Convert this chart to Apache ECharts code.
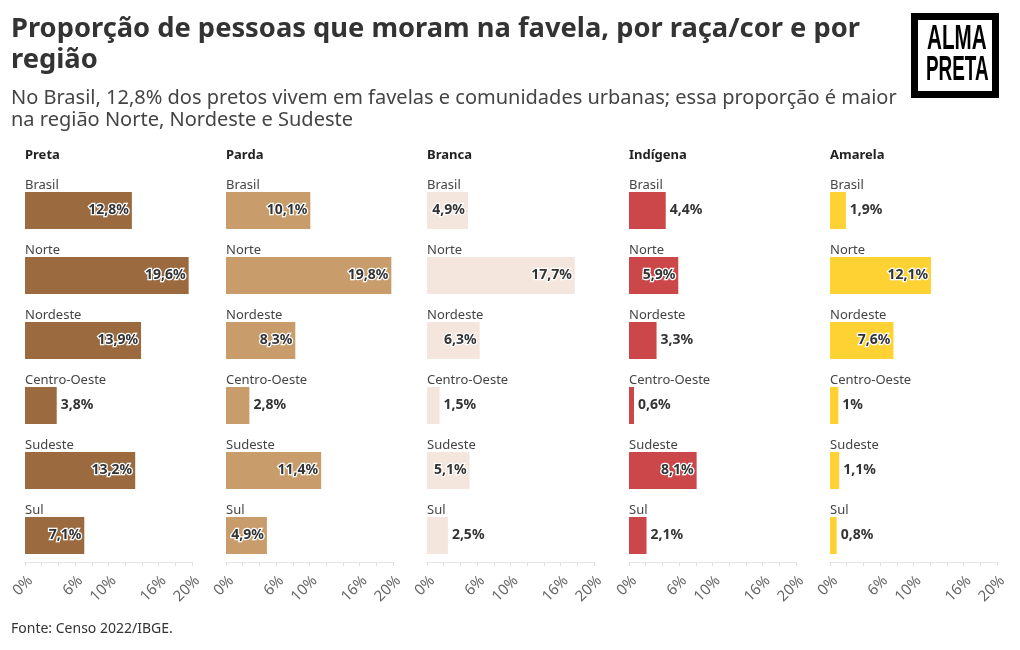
<!DOCTYPE html>
<html>
<head>
<meta charset="utf-8">
<script src="https://cdn.jsdelivr.net/npm/echarts@6/dist/echarts.min.js"></script>
<style>
html,body{margin:0;padding:0;background:#fff;}
#chart{width:1020px;height:650px;}
</style>
</head>
<body>
<div id="chart"></div>
<script>
// ---- Data ----
const regions = ['Brasil', 'Norte', 'Nordeste', 'Centro-Oeste', 'Sudeste', 'Sul'];
const groups = ['Preta', 'Parda', 'Branca', 'Indígena', 'Amarela'];
const preta = [12.8, 19.6, 13.9, 3.8, 13.2, 7.1];
const parda = [10.1, 19.8, 8.3, 2.8, 11.4, 4.9];
const branca = [4.9, 17.7, 6.3, 1.5, 5.1, 2.5];
const indigena = [4.4, 5.9, 3.3, 0.6, 8.1, 2.1];
const amarela = [1.9, 12.1, 7.6, 1, 1.1, 0.8];
const tickLabels = [0, 6, 10, 16, 20];

const seriesValues = [preta, parda, branca, indigena, amarela];
const colors = ['#9B6A3E', '#C99D6B', '#F4E5DD', '#CC4749', '#FED232'];

const FONT = '"Noto Sans", Roboto, sans-serif';
const panelLeft = [25, 226, 427, 629, 830];
const panelWidth = 167;
const gridTop = 178;
const gridHeight = 390;

function fmt(v) { return String(v).replace('.', ',') + '%'; }

const grids = [], xAxes = [], yAxes = [], series = [], titles = [];

titles.push({
  text: 'Proporção de pessoas que moram na favela, por raça/cor e por\nregião',
  left: 11, top: 14, padding: 0,
  textStyle: { fontFamily: FONT, fontSize: 27.3, fontWeight: 'bold', color: '#333', lineHeight: 31 }
});
titles.push({
  text: 'No Brasil, 12,8% dos pretos vivem em favelas e comunidades urbanas; essa proporção é maior\nna região Norte, Nordeste e Sudeste',
  left: 11, top: 87, padding: 0,
  textStyle: { fontFamily: FONT, fontSize: 20, fontWeight: 'normal', color: '#444', lineHeight: 22 }
});
titles.push({
  text: 'Fonte: Censo 2022/IBGE.',
  left: 11, top: 622, padding: 0,
  textStyle: { fontFamily: FONT, fontSize: 14, fontWeight: 'normal', color: '#333' }
});

groups.forEach((g, i) => {
  titles.push({
    text: g, left: panelLeft[i], top: 149, padding: 0,
    textStyle: { fontFamily: FONT, fontSize: 13, fontWeight: 'bold', color: '#222' }
  });
  grids.push({ left: panelLeft[i], top: gridTop, width: panelWidth, height: gridHeight });
  xAxes.push({
    type: 'value', gridIndex: i, min: 0, max: 20, interval: 2, offset: -6,
    splitLine: { show: false },
    axisLine: { show: true, lineStyle: { color: '#e6e6e6' } },
    axisTick: { show: true, length: 4, lineStyle: { color: '#e0e0e0' } },
    axisLabel: {
      rotate: 45, margin: 11, fontFamily: FONT, fontSize: 15, color: '#666',
      verticalAlign: 'top',
      formatter: v => tickLabels.indexOf(v) >= 0 ? v + '%' : ''
    }
  });
  yAxes.push({
    type: 'category', gridIndex: i, data: regions, inverse: true,
    axisLine: { show: false }, axisTick: { show: false }, splitLine: { show: false },
    axisLabel: {
      inside: true, margin: 0, verticalAlign: 'bottom', align: 'left',
      padding: [0, 0, 17, 0], lineHeight: 16,
      fontFamily: FONT, fontSize: 13, color: '#444'
    }
  });
  series.push({
    type: 'bar', xAxisIndex: i, yAxisIndex: i, barWidth: 37,
    itemStyle: { color: colors[i] },
    data: seriesValues[i].map(v => {
      const inside = v >= 4.5;
      return {
        value: v,
        label: {
          show: true,
          position: inside ? 'insideRight' : 'right',
          distance: inside ? 3 : 4,
          formatter: p => fmt(p.value),
          fontFamily: FONT, fontSize: 14, fontWeight: 'bold', color: '#333',
          textBorderColor: '#fff', textBorderWidth: inside ? 2.5 : 0
        }
      };
    })
  });
});

const LOGO_FONT = 'bold 35px "Liberation Sans", Arial, sans-serif';
const chart = echarts.init(document.getElementById('chart'), null, { renderer: 'canvas' });
chart.setOption({
  backgroundColor: '#fff',
  animation: false,
  title: titles,
  grid: grids,
  xAxis: xAxes,
  yAxis: yAxes,
  series: series,
  graphic: [
    { type: 'rect', x: 914.5, y: 16.5, shape: { x: 0, y: 0, width: 81, height: 78 },
      style: { fill: '#fff', stroke: '#000', lineWidth: 7 } },
    { type: 'text', x: 927, y: 22, scaleX: 0.59,
      style: { text: 'ALMA', font: LOGO_FONT, fill: '#000', verticalAlign: 'top', align: 'left' } },
    { type: 'text', x: 926, y: 53, scaleX: 0.54,
      style: { text: 'PRETA', font: LOGO_FONT, fill: '#000', verticalAlign: 'top', align: 'left' } }
  ]
});
</script>
</body>
</html>
